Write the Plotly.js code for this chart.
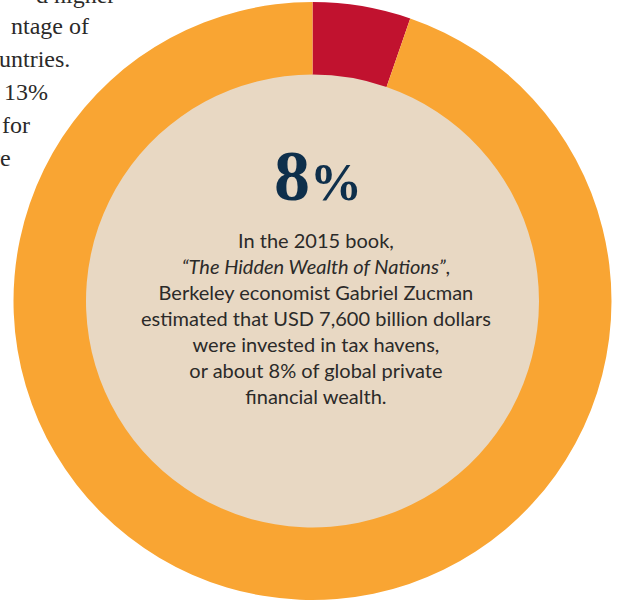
<!DOCTYPE html>
<html>
<head>
<meta charset="utf-8">
<script src="https://cdn.plot.ly/plotly-3.0.1.min.js"></script>
<style>html,body{margin:0;padding:0;background:#fff;}#chart{width:619px;height:603px;}</style>
</head>
<body>
<div id="chart"></div>
<script>
// Data
const sliceLabels = ["Invested in tax havens", "Other global private financial wealth"];
const sliceValues = [5.3, 94.7];
const sliceColors = ["#C1122F", "#F9A533"];
const headline = "8";
const headlineUnit = "%";
const bodyLines = [
  "In the 2015 book,",
  "<i>\u201CThe Hidden Wealth of Nations\u201D</i>,",
  "Berkeley economist Gabriel Zucman",
  "estimated that USD 7,600 billion dollars",
  "were invested in tax havens,",
  "or about 8% of global private",
  "financial wealth."
];
const sideLines = ["d higher", "ntage of", "untries.", "13%", "for", "re"];
const sideRightPx = [117, 91, 72, 50, 32, 13];
const sideBaselinePx = [3, 34, 67, 100, 133, 166];

const W = 619, H = 603;
const px = x => x / W;
const py = y => 1 - y / H;

const cx = 312.5, cy = 301, R = 299, r = 226.5;

const trace = {
  type: "pie",
  labels: sliceLabels,
  values: sliceValues,
  marker: {colors: sliceColors, line: {width: 0}},
  hole: r / R,
  sort: false,
  direction: "clockwise",
  rotation: 0,
  textinfo: "none",
  hoverinfo: "label+percent",
  showlegend: false,
  domain: {x: [px(cx - R), px(cx + R)], y: [py(cy + R), py(cy - R)]}
};

const annotations = [];
annotations.push({
  xref: "paper", yref: "paper", x: px(318), y: py(176), xanchor: "center", yanchor: "middle",
  showarrow: false,
  text: headline + '<span style="font-size:52px">' + headlineUnit + '</span>',
  font: {family: "Liberation Serif, DejaVu Serif, serif", size: 72, color: "#0E2F4B", weight: 700}
});
annotations.push({
  xref: "paper", yref: "paper", x: px(316), y: py(318), xanchor: "center", yanchor: "middle",
  showarrow: false, align: "center",
  text: bodyLines.join("<br>"),
  font: {family: "Lato, Noto Sans, sans-serif", size: 20, color: "#2B2A29"}
});
sideLines.forEach((t, i) => {
  annotations.push({
    xref: "paper", yref: "paper", x: px(sideRightPx[i]), y: py(sideBaselinePx[i] - 8),
    xanchor: "right", yanchor: "middle", showarrow: false,
    text: t,
    font: {family: "Liberation Serif, DejaVu Serif, serif", size: 24, color: "#2B2A29"}
  });
});

const layout = {
  width: W, height: H,
  margin: {l: 0, r: 0, t: 0, b: 0, pad: 0},
  paper_bgcolor: "#FFFFFF",
  plot_bgcolor: "#FFFFFF",
  showlegend: false,
  shapes: [{
    type: "circle", xref: "paper", yref: "paper", layer: "below",
    x0: px(cx - r - 1), x1: px(cx + r + 1), y0: py(cy + r + 1), y1: py(cy - r - 1),
    fillcolor: "#E8D8C3", line: {width: 0}
  }],
  annotations: annotations
};

Plotly.newPlot("chart", [trace], layout, {displayModeBar: false, staticPlot: true});
</script>
</body>
</html>
